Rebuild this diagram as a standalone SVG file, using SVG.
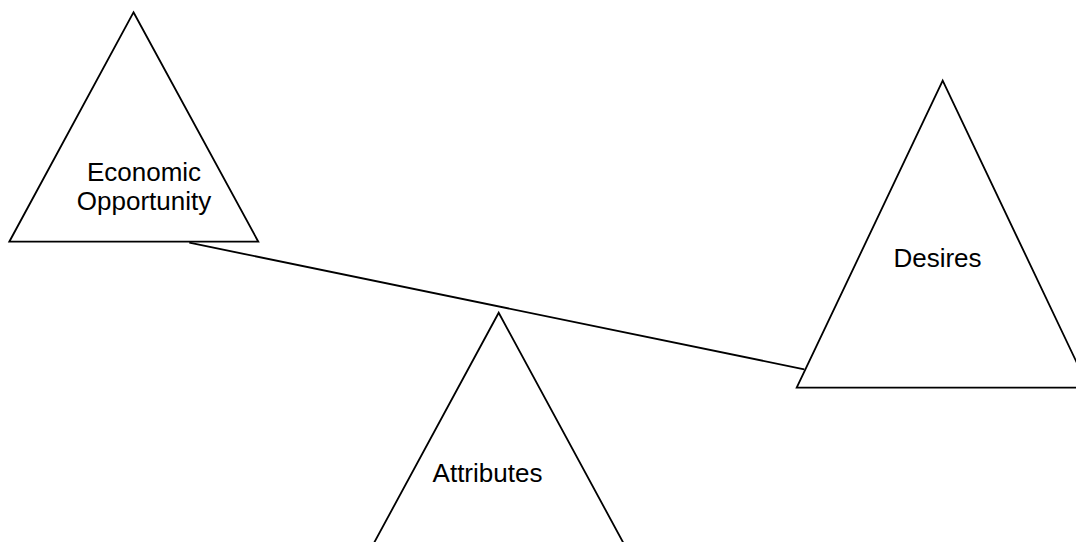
<svg xmlns="http://www.w3.org/2000/svg" width="1076" height="542" viewBox="0 0 1076 542">
<style>
.tri{fill:#ffffff;stroke:#000000;stroke-width:1.8;stroke-linejoin:miter}
.conn{fill:none;stroke:#000000;stroke-width:1.8}
.lbl{font-family:"Liberation Sans",Arial,sans-serif;font-size:26px;fill:#000000;text-anchor:middle}
</style>
<rect width="1076" height="542" fill="#ffffff"/>
<g id="node-economic">
<polygon class="tri" points="133.5,12.3 258.3,241.7 9.3,241.7"/>
<text class="lbl" x="144" y="181">Economic</text>
<text class="lbl" x="144" y="210">Opportunity</text>
</g>
<g id="node-desires">
<polygon class="tri" points="942.7,80.7 1088.7,387.7 796.7,387.7"/>
<text class="lbl" x="937.5" y="266.7">Desires</text>
</g>
<g id="node-attributes">
<polygon class="tri" points="498.7,312.7 623.7,543.5 373.7,543.5"/>
<text class="lbl" x="487.5" y="481.7">Attributes</text>
</g>
<g id="connectors">
<line class="conn" x1="189.3" y1="242.7" x2="804.3" y2="369.3"/>
</g>
</svg>
